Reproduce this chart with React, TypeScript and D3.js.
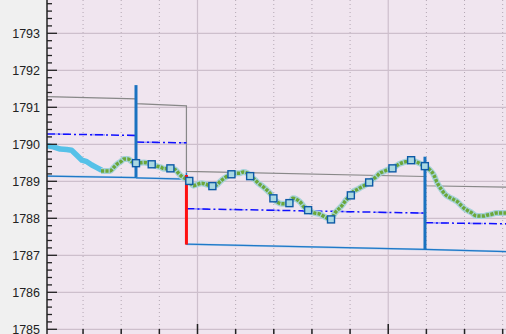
import React from "react";
import * as d3 from "d3";

const W = 506;
const H = 334;

// axis ticks
const yMajorTicks = [1785, 1786, 1787, 1788, 1789, 1790, 1791, 1792, 1793];
const yMinorTicks = d3.range(1785, 1793.9, 0.2).filter((v) => Math.abs(v - Math.round(v)) > 0.01);
const xMinorTicks = [1, 2, 3, 5, 6, 7, 8, 10, 11, 12];
const xMajorTicks = [4, 9];

// session boundaries (x) and level lines per session
const sessionX = [0.055, 2.388, 3.71, 9.963, 12.09];
const upperStart = [1791.29, 1791.1, 1789.27, 1788.88];
const upperEnd = [1791.23, 1791.04, 1789.13, 1788.84];
const midStart = [1790.28, 1790.06, 1788.26, 1787.88];
const midEnd = [1790.24, 1790.04, 1788.14, 1787.85];
const lowStart = [1789.14, 1789.09, 1787.3, 1787.16];
const lowEnd = [1789.1, 1789.06, 1787.16, 1787.1];

// vertical range bars
const barX = [2.388, 3.71, 9.963];
const barTop = [1791.6, 1789.24, 1789.665];
const barBottom = [1789.1, 1787.29, 1787.16];
const barRedTop = 1789.17;

// thick cyan series
const cyanX = [0.055, 0.22, 0.4, 0.57, 0.7, 0.83, 0.97, 1.1, 1.23, 1.36, 1.49];
const cyanY = [1789.96, 1789.93, 1789.87, 1789.86, 1789.84, 1789.71, 1789.57, 1789.53, 1789.44, 1789.37, 1789.3];

// green dotted series
const greenX = [
  1.47, 1.6, 1.71, 1.81, 1.9, 1.99, 2.07, 2.18, 2.28, 2.39, 2.49, 2.6, 2.71, 2.8, 2.93, 3.04, 3.12, 3.29, 3.41,
  3.5, 3.6, 3.79, 3.89, 4.0, 4.11, 4.22, 4.39, 4.5, 4.61, 4.71, 4.89, 5.03, 5.11, 5.2, 5.31, 5.38, 5.51, 5.59,
  5.7, 5.81, 5.9, 5.99, 6.09, 6.21, 6.29, 6.41, 6.5, 6.6, 6.71, 6.79, 6.9, 7.08, 7.19, 7.3, 7.5, 7.6, 7.69,
  7.8, 7.89, 8.02, 8.08, 8.19, 8.29, 8.4, 8.5, 8.59, 8.7, 8.78, 8.87, 8.98, 9.11, 9.2, 9.29, 9.4, 9.5, 9.6,
  9.73, 9.81, 9.96, 10.09, 10.2, 10.27, 10.4, 10.51, 10.6, 10.71, 10.81, 10.9, 10.99, 11.1, 11.2, 11.29, 11.39,
  11.49, 11.6, 11.71, 11.82, 11.93, 12.03, 12.09,
];
const greenY = [
  1789.28, 1789.28, 1789.28, 1789.38, 1789.47, 1789.53, 1789.6, 1789.6, 1789.53, 1789.49, 1789.5, 1789.51,
  1789.49, 1789.46, 1789.41, 1789.38, 1789.34, 1789.35, 1789.32, 1789.22, 1789.12, 1789.01, 1788.88, 1788.92,
  1788.95, 1788.92, 1788.87, 1788.9, 1789.01, 1789.09, 1789.19, 1789.22, 1789.22, 1789.25, 1789.22, 1789.14,
  1789.04, 1788.95, 1788.87, 1788.77, 1788.68, 1788.54, 1788.44, 1788.39, 1788.39, 1788.41, 1788.54, 1788.51,
  1788.42, 1788.31, 1788.22, 1788.14, 1788.12, 1788.06, 1787.97, 1788.14, 1788.24, 1788.36, 1788.49, 1788.62,
  1788.72, 1788.78, 1788.84, 1788.9, 1788.97, 1789.05, 1789.14, 1789.22, 1789.26, 1789.31, 1789.35, 1789.41,
  1789.47, 1789.51, 1789.54, 1789.57, 1789.53, 1789.49, 1789.41, 1789.31, 1789.16, 1788.99, 1788.77, 1788.63,
  1788.57, 1788.51, 1788.45, 1788.36, 1788.27, 1788.2, 1788.14, 1788.07, 1788.06, 1788.06, 1788.09, 1788.11,
  1788.14, 1788.14, 1788.14, 1788.14,
];

// square markers
const markerX = [2.388, 2.8, 3.29, 3.785, 4.39, 4.89, 5.38, 5.99, 6.41, 6.9, 7.5, 8.02, 8.5, 9.11, 9.6, 9.96];
const markerY = [
  1789.49, 1789.46, 1789.35, 1789.01, 1788.87, 1789.19, 1789.14, 1788.54, 1788.41, 1788.22, 1787.97, 1788.62,
  1788.97, 1789.35, 1789.57, 1789.41,
];

export default function App() {
  const x = d3.scaleLinear().domain([0.055, 12.087]).range([47, 506]);
  const y = d3.scaleLinear().domain([1784.873, 1793.9]).range([H, 0]);
  const line = d3
    .line<[number, number]>()
    .x((d) => x(d[0]))
    .y((d) => y(d[1]));
  const smooth = d3
    .line<[number, number]>()
    .x((d) => x(d[0]))
    .y((d) => y(d[1]))
    .curve(d3.curveMonotoneX);

  const nSess = upperStart.length;
  const upperPts: [number, number][] = [];
  for (let i = 0; i < nSess; i++) {
    upperPts.push([sessionX[i], upperStart[i]]);
    upperPts.push([sessionX[i + 1], upperEnd[i]]);
  }
  const segs = (s: number[], e: number[]) =>
    d3.range(nSess).map((i) => line([[sessionX[i], s[i]], [sessionX[i + 1], e[i]]] as [number, number][]) as string);

  const cyanPts = cyanX.map((v, i) => [v, cyanY[i]] as [number, number]);
  const greenPts = greenX.map((v, i) => [v, greenY[i]] as [number, number]);
  const ms = 7;

  return (
    <svg
      width={W}
      height={H}
      style={{ position: "absolute", left: 0, top: 0, display: "block" }}
      fontFamily="'Liberation Sans', Arial, sans-serif"
    >
      <defs>
        <clipPath id="plot">
          <rect x={47} y={0} width={W - 47} height={H} />
        </clipPath>
      </defs>
      <rect x={0} y={0} width={W} height={H} fill="#f0f0f0" />
      <rect x={47} y={0} width={W - 47} height={H} fill="#f0e5ef" />
      <g clipPath="url(#plot)">
        {xMinorTicks.map((t) => (
          <line key={"xg" + t} x1={x(t)} x2={x(t)} y1={0} y2={H} stroke="#b3a7b3" strokeDasharray="1,3" />
        ))}
        {xMajorTicks.map((t) => (
          <line key={"xM" + t} x1={x(t)} x2={x(t)} y1={0} y2={H} stroke="#cdbfcc" strokeWidth={1.2} />
        ))}
        {yMajorTicks.map((t) => (
          <line key={"yg" + t} x1={47} x2={W} y1={y(t)} y2={y(t)} stroke="#cdbfcc" strokeWidth={1.2} />
        ))}
        {/* level lines */}
        <path d={line(upperPts) as string} fill="none" stroke="#888888" strokeWidth={1.2} />
        {segs(midStart, midEnd).map((d, i) => (
          <g key={"mid" + i}>
            <path d={d} fill="none" stroke="#7b7bff" strokeWidth={1.6} strokeDasharray="14,22" strokeDashoffset={-8} opacity={0.7} />
            <path d={d} fill="none" stroke="#1010ff" strokeWidth={1.5} strokeDasharray="8,3,2,3" />
          </g>
        ))}
        {segs(lowStart, lowEnd).map((d, i) => (
          <g key={"low" + i}>
            <path d={d} fill="none" stroke="#8cbfe6" strokeWidth={2} opacity={0.7} />
            <path d={d} fill="none" stroke="#1f78c8" strokeWidth={1.3} />
          </g>
        ))}
        {/* cyan thick series */}
        <path d={line(cyanPts) as string} fill="none" stroke="#56c1e8" strokeWidth={5.5} strokeLinejoin="round" />
        {/* green dotted series */}
        <path d={smooth(greenPts) as string} fill="none" stroke="#a6d2da" strokeWidth={6} strokeLinejoin="round" />
        <path d={smooth(greenPts) as string} fill="none" stroke="#6ca83a" strokeWidth={3.5} strokeDasharray="3.2,1.2" />
        {/* vertical bars */}
        {barX.map((bx, i) => (
          <line
            key={"bar" + i}
            x1={x(bx)}
            x2={x(bx)}
            y1={y(barTop[i])}
            y2={y(barBottom[i])}
            stroke="#1a72c0"
            strokeWidth={i === 1 ? 1.5 : 3}
          />
        ))}
        <line x1={x(barX[1])} x2={x(barX[1])} y1={y(barRedTop)} y2={y(barBottom[1])} stroke="#ff1010" strokeWidth={3} />
        {/* markers */}
        {markerX.map((mx, i) => (
          <rect
            key={"m" + i}
            x={x(mx) - ms / 2}
            y={y(markerY[i]) - ms / 2}
            width={ms}
            height={ms}
            fill="#a9d8e2"
            stroke="#0e5aa6"
            strokeWidth={1.4}
          />
        ))}
        {/* x ticks */}
        {xMinorTicks.map((t) => (
          <line key={"xt" + t} x1={x(t)} x2={x(t)} y1={H} y2={H - 5} stroke="#222" strokeWidth={1.5} />
        ))}
        {xMajorTicks.map((t) => (
          <line key={"xT" + t} x1={x(t)} x2={x(t)} y1={H} y2={H - 10} stroke="#222" strokeWidth={1.5} />
        ))}
      </g>
      {/* y axis */}
      <line x1={47} x2={47} y1={0} y2={H} stroke="#222" strokeWidth={1.5} />
      {yMinorTicks.map((t) => (
        <line key={"ym" + t} x1={47} x2={52} y1={y(t)} y2={y(t)} stroke="#222" strokeWidth={1.3} />
      ))}
      {yMajorTicks.map((t) => (
        <g key={"yM" + t}>
          <line x1={47} x2={57} y1={y(t)} y2={y(t)} stroke="#222" strokeWidth={1.3} />
          <text x={40} y={y(t)} dy="0.36em" textAnchor="end" fontSize={12.5} fill="#222">
            {t}
          </text>
        </g>
      ))}
    </svg>
  );
}
